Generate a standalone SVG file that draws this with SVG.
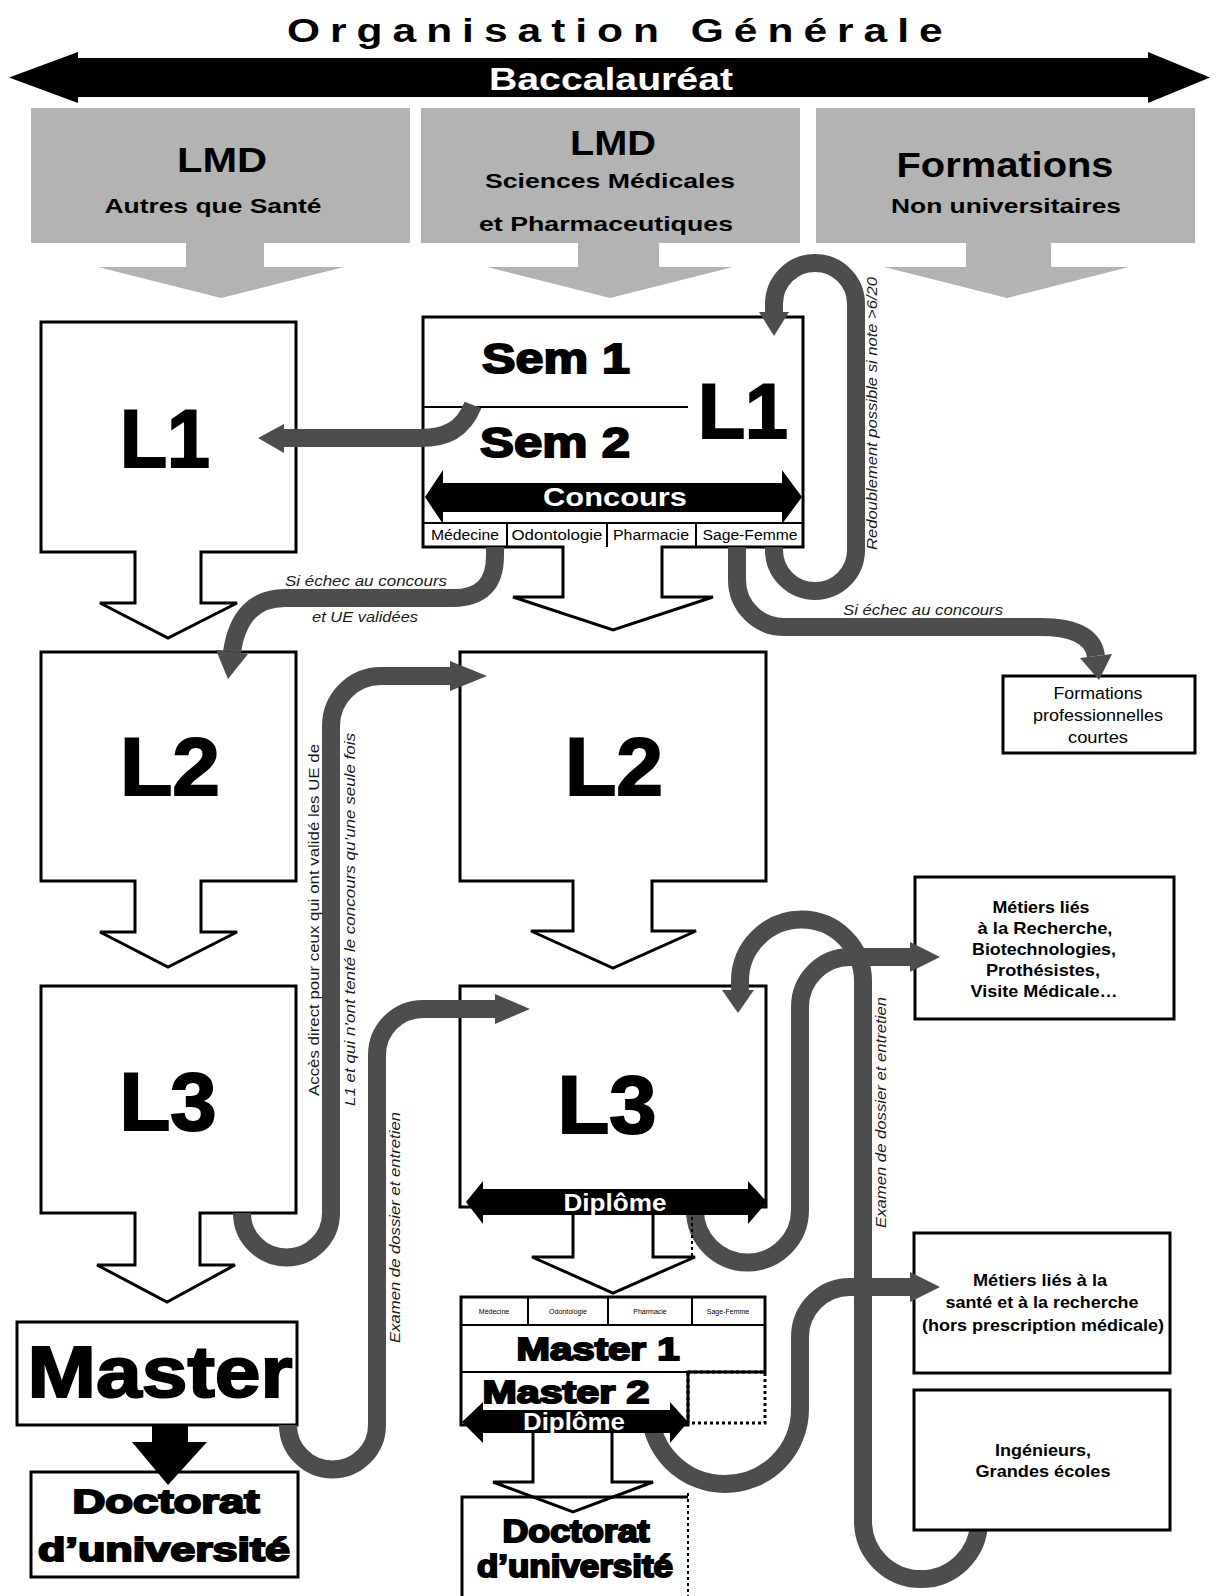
<svg xmlns="http://www.w3.org/2000/svg" width="1216" height="1596" viewBox="0 0 1216 1596">
<style>
.f{font-family:"Liberation Sans",Arial,Helvetica,sans-serif}
.box{fill:#fff;stroke:#000;stroke-width:3}
.frame{fill:none;stroke:#000;stroke-width:3}
.ln{fill:none;stroke:#000;stroke-width:2}
.dot{fill:none;stroke:#000;stroke-width:3;stroke-dasharray:3 3}
.hdr{fill:#b3b3b3}
.blk{fill:#000}
.conn{fill:none;stroke:#4d4d4d;stroke-width:18}
.hd{fill:#4d4d4d}
.heavy{font-weight:bold;fill:#000;stroke:#000;stroke-width:2;text-anchor:middle}
.wt{fill:#fff;font-weight:bold;text-anchor:middle}
.hdt{font-weight:bold;fill:#000;text-anchor:middle}
.rb{font-weight:bold;fill:#000;text-anchor:middle}
.rn{fill:#000;text-anchor:middle}
.lab{font-style:italic;fill:#1a1a1a}
.up{fill:#1a1a1a}
.cell{fill:#000;text-anchor:middle}
</style>
<rect x="0" y="0" width="1216" height="1596" fill="#fff"/>

<g id="title">
<text class="f" transform="translate(287,42) scale(1.25,1)" x="0" y="0" font-size="34" font-weight="bold" letter-spacing="8">Organisation Générale</text>
</g>

<g id="baccalaureat">
<polygon class="blk" points="9,77.5 78,52 78,58 1148,58 1148,52 1210,77.5 1148,103 1148,97 78,97 78,103"/>
<text class="f wt" x="611" y="90" font-size="32" textLength="244" lengthAdjust="spacingAndGlyphs">Baccalauréat</text>
</g>

<g id="lmd-autres">
<rect class="hdr" x="31" y="108" width="379" height="135"/>
<polygon class="hdr" points="186,242 264,242 264,267 344,267 221,298 98,267 186,267"/>
<text class="f hdt" x="222" y="172" font-size="35" textLength="90" lengthAdjust="spacingAndGlyphs">LMD</text>
<text class="f hdt" x="213" y="213" font-size="20" textLength="217" lengthAdjust="spacingAndGlyphs">Autres que Santé</text>
</g>

<g id="lmd-sante">
<rect class="hdr" x="421" y="108" width="379" height="135"/>
<polygon class="hdr" points="578,242 659,242 659,267 733,267 610,298 487,267 578,267"/>
<text class="f hdt" x="613" y="155" font-size="35" textLength="86" lengthAdjust="spacingAndGlyphs">LMD</text>
<text class="f hdt" x="610" y="188" font-size="21" textLength="250" lengthAdjust="spacingAndGlyphs">Sciences Médicales</text>
<text class="f hdt" x="606" y="231" font-size="21" textLength="254" lengthAdjust="spacingAndGlyphs">et Pharmaceutiques</text>
</g>

<g id="formations-non-univ">
<rect class="hdr" x="816" y="108" width="379" height="135"/>
<polygon class="hdr" points="966,242 1051,242 1051,267 1129,267 1007,298 884,267 966,267"/>
<text class="f hdt" x="1005" y="177" font-size="35" textLength="217" lengthAdjust="spacingAndGlyphs">Formations</text>
<text class="f hdt" x="1006" y="213" font-size="20" textLength="230" lengthAdjust="spacingAndGlyphs">Non universitaires</text>
</g>

<g id="l1-left">
<polygon class="box" points="41,322 296,322 296,552 201,552 201,603 237,603 168,638 100,603 135,603 135,552 41,552"/>
<text class="f heavy" x="165" y="467" font-size="81" textLength="90" lengthAdjust="spacingAndGlyphs">L1</text>
</g>

<g id="l2-left">
<polygon class="box" points="41,652 296,652 296,881 201,881 201,932 237,932 168,967 100,932 135,932 135,881 41,881"/>
<text class="f heavy" x="170" y="795" font-size="81" textLength="100" lengthAdjust="spacingAndGlyphs">L2</text>
</g>

<g id="l3-left">
<polygon class="box" points="41,986 296,986 296,1213 200,1213 200,1265 235,1265 167,1302 97,1265 135,1265 135,1213 41,1213"/>
<text class="f heavy" x="168" y="1130" font-size="81" textLength="97" lengthAdjust="spacingAndGlyphs">L3</text>
</g>

<g id="doctorat-left">
<rect class="box" x="31" y="1472" width="267" height="105"/>
<text class="f heavy" x="166" y="1513" font-size="33" textLength="187" lengthAdjust="spacingAndGlyphs">Doctorat</text>
<text class="f heavy" x="164" y="1561" font-size="33" textLength="252" lengthAdjust="spacingAndGlyphs">d’université</text>
</g>

<g id="master-left">
<rect class="box" x="17" y="1322" width="280" height="103"/>
<text class="f heavy" x="160" y="1397" font-size="73" textLength="265" lengthAdjust="spacingAndGlyphs">Master</text>
<polygon class="blk" points="152,1425 188,1425 188,1442 207,1442 168,1485 132,1442 152,1442"/>
</g>

<g id="l1-sante">
<polygon class="box" points="423,317 803,317 803,547 662,547 662,597 713,597 613,630 513,597 563,597 563,547 423,547"/>
<line class="ln" x1="423" y1="407" x2="688" y2="407"/>
<line class="ln" x1="423" y1="523" x2="803" y2="523"/>
<line class="ln" x1="507" y1="523" x2="507" y2="547"/>
<line class="ln" x1="607" y1="523" x2="607" y2="547"/>
<line class="ln" x1="696" y1="523" x2="696" y2="547"/>
<text class="f heavy" x="556" y="373" font-size="43" textLength="148" lengthAdjust="spacingAndGlyphs">Sem 1</text>
<text class="f heavy" x="555" y="457" font-size="43" textLength="150" lengthAdjust="spacingAndGlyphs">Sem 2</text>
<text class="f heavy" x="743" y="438" font-size="78" textLength="90" lengthAdjust="spacingAndGlyphs">L1</text>
<polygon class="blk" points="425,497 443,470 443,483 782,483 782,470 802,497 782,524 782,512 443,512 443,524"/>
<text class="f wt" x="615" y="506" font-size="26" textLength="144" lengthAdjust="spacingAndGlyphs">Concours</text>
<text class="f cell" x="465" y="540" font-size="14" textLength="68" lengthAdjust="spacingAndGlyphs">Médecine</text>
<text class="f cell" x="557" y="540" font-size="14" textLength="91" lengthAdjust="spacingAndGlyphs">Odontologie</text>
<text class="f cell" x="651" y="540" font-size="14" textLength="76" lengthAdjust="spacingAndGlyphs">Pharmacie</text>
<text class="f cell" x="750" y="540" font-size="14" textLength="95" lengthAdjust="spacingAndGlyphs">Sage-Femme</text>
</g>

<g id="l2-sante">
<polygon class="box" points="460,652 766,652 766,881 652,881 652,931 696,931 613,968 531,931 573,931 573,881 460,881"/>
<text class="f heavy" x="614" y="795" font-size="81" textLength="98" lengthAdjust="spacingAndGlyphs">L2</text>
</g>

<g id="l3-sante">
<polygon class="box" points="460,986 766,986 766,1207 653,1207 653,1257 695,1257 613,1293 532,1257 573,1257 573,1207 460,1207"/>
<text class="f heavy" x="607" y="1133" font-size="81" textLength="99" lengthAdjust="spacingAndGlyphs">L3</text>
</g>

<g id="formations-pro">
<rect class="box" x="1003" y="676" width="192" height="77"/>
<text class="f rn" x="1098" y="699" font-size="16" textLength="89" lengthAdjust="spacingAndGlyphs">Formations</text>
<text class="f rn" x="1098" y="721" font-size="16" textLength="130" lengthAdjust="spacingAndGlyphs">professionnelles</text>
<text class="f rn" x="1098" y="743" font-size="16" textLength="60" lengthAdjust="spacingAndGlyphs">courtes</text>
</g>

<g id="metiers-recherche">
<rect class="box" x="915" y="877" width="259" height="142"/>
<text class="f rb" x="1041" y="913" font-size="17" textLength="97" lengthAdjust="spacingAndGlyphs">Métiers liés</text>
<text class="f rb" x="1045" y="934" font-size="17" textLength="135" lengthAdjust="spacingAndGlyphs">à la Recherche,</text>
<text class="f rb" x="1044" y="955" font-size="17" textLength="144" lengthAdjust="spacingAndGlyphs">Biotechnologies,</text>
<text class="f rb" x="1043" y="976" font-size="17" textLength="114" lengthAdjust="spacingAndGlyphs">Prothésistes,</text>
<text class="f rb" x="1044" y="997" font-size="17" textLength="147" lengthAdjust="spacingAndGlyphs">Visite Médicale…</text>
</g>

<g id="metiers-sante">
<rect class="box" x="914" y="1233" width="256" height="140"/>
<text class="f rb" x="1040" y="1286" font-size="16" textLength="134" lengthAdjust="spacingAndGlyphs">Métiers liés à la</text>
<text class="f rb" x="1042" y="1308" font-size="16" textLength="193" lengthAdjust="spacingAndGlyphs">santé et à la recherche</text>
<text class="f rb" x="1043" y="1331" font-size="16" textLength="242" lengthAdjust="spacingAndGlyphs">(hors prescription médicale)</text>
</g>

<g id="connectors">
<path class="conn" d="M 473,405 C 463,430 446,438 420,438 L 284,438"/>
<polygon class="hd" points="284,424 258,438 284,453"/>
<path class="conn" d="M 495,547 L 495,556 Q 495,598 453,598 L 285,598 Q 240,598 232,652"/>
<polygon class="hd" points="216,650 228,679 248,654"/>
<path class="conn" d="M 242,1213 A 44.5 44.5 0 0 0 331,1213 L 331,726 A 50 50 0 0 1 381,676 L 452,676"/>
<polygon class="hd" points="450,661 487,676 450,691"/>
<path class="conn" d="M 288,1425 A 44.5 44.5 0 0 0 377,1425 L 377,1055 A 46 46 0 0 1 423,1009 L 497,1009"/>
<polygon class="hd" points="495,994 530,1009 495,1024"/>
<path class="conn" d="M 774,547 L 774,550 A 41 41 0 0 0 856,550 L 856,304 A 41 41 0 0 0 774,304 L 774,314"/>
<polygon class="hd" points="759,312 774,336 789,312"/>
<path class="conn" d="M 737,547 L 737,580 A 47 47 0 0 0 784,627 L 1040,627 Q 1092,627 1096,656"/>
<polygon class="hd" points="1080,658 1099,680 1112,654"/>
<path class="conn" d="M 695,1200 L 695,1210 A 52.5 52.5 0 0 0 800,1210 L 800,1007 A 50 50 0 0 1 850,957 L 912,957"/>
<polygon class="hd" points="910,942 940,957 910,972"/>
<path class="conn" d="M 650,1409 A 75 75 0 0 0 800,1409 L 800,1337 A 50 50 0 0 1 850,1287 L 912,1287"/>
<polygon class="hd" points="910,1272 940,1287 910,1302"/>
<path class="conn" d="M 979,1521 A 58 58 0 0 1 863,1521 L 863,981 A 61.5 61.5 0 0 0 740,981 L 740,992"/>
<polygon class="hd" points="722,990 738,1013 754,990"/>
<text class="f lab" x="285" y="586" font-size="15" textLength="162" lengthAdjust="spacingAndGlyphs">Si échec au concours</text>
<text class="f lab" x="312" y="622" font-size="15" textLength="106" lengthAdjust="spacingAndGlyphs">et UE validées</text>
<text class="f lab" x="843" y="615" font-size="15" textLength="160" lengthAdjust="spacingAndGlyphs">Si échec au concours</text>
<text class="f lab" transform="translate(877,550) rotate(-90)" x="0" y="0" font-size="14" textLength="273" lengthAdjust="spacingAndGlyphs">Redoublement possible si note &gt;6/20</text>
<text class="f up" transform="translate(319,1096) rotate(-90)" x="0" y="0" font-size="15" textLength="352" lengthAdjust="spacingAndGlyphs">Accès direct pour ceux qui ont validé les UE de</text>
<text class="f lab" transform="translate(355,1106) rotate(-90)" x="0" y="0" font-size="15" textLength="373" lengthAdjust="spacingAndGlyphs">L1 et qui n’ont tenté le concours qu’une seule fois</text>
<text class="f lab" transform="translate(400,1343) rotate(-90)" x="0" y="0" font-size="14" textLength="231" lengthAdjust="spacingAndGlyphs">Examen de dossier et entretien</text>
<text class="f lab" transform="translate(886,1228) rotate(-90)" x="0" y="0" font-size="14" textLength="231" lengthAdjust="spacingAndGlyphs">Examen de dossier et entretien</text>
</g>

<g id="diplome-l3">
<polygon class="blk" points="466,1202 483,1181 483,1189 748,1189 748,1181 767,1202 748,1224 748,1215 483,1215 483,1224"/>
<text class="f wt" x="615" y="1211" font-size="24" textLength="103" lengthAdjust="spacingAndGlyphs">Diplôme</text>
<line class="dot" x1="692" y1="1217" x2="692" y2="1257" style="stroke-width:2"/>
</g>

<g id="master-sante">
<polygon class="box" points="461,1297 765,1297 765,1372 688,1372 688,1425 612,1425 612,1482 653,1482 573,1512 493,1482 533,1482 533,1425 461,1425"/>
<line class="ln" x1="461" y1="1325" x2="765" y2="1325"/>
<line class="ln" x1="461" y1="1372" x2="688" y2="1372"/>
<line class="ln" x1="528" y1="1297" x2="528" y2="1325"/>
<line class="ln" x1="608" y1="1297" x2="608" y2="1325"/>
<line class="ln" x1="692" y1="1297" x2="692" y2="1325"/>
<text class="f cell" x="494" y="1314" font-size="7">Médecine</text>
<text class="f cell" x="568" y="1314" font-size="7">Odontologie</text>
<text class="f cell" x="650" y="1314" font-size="7">Pharmacie</text>
<text class="f cell" x="728" y="1314" font-size="7">Sage-Femme</text>
<rect class="dot" x="688" y="1372" width="77" height="51"/>
<text class="f heavy" x="598" y="1360" font-size="32" textLength="163" lengthAdjust="spacingAndGlyphs">Master 1</text>
<text class="f heavy" x="566" y="1403" font-size="32" textLength="167" lengthAdjust="spacingAndGlyphs">Master 2</text>
<polygon class="blk" points="462,1422 483,1402 483,1410 670,1410 670,1402 688,1422 670,1443 670,1433 483,1433 483,1443"/>
<text class="f wt" x="574" y="1430" font-size="24" textLength="102" lengthAdjust="spacingAndGlyphs">Diplôme</text>
</g>

<g id="doctorat-sante">
<path class="frame" d="M 462,1600 L 462,1497 L 688,1497"/>
<line class="dot" x1="688" y1="1493" x2="688" y2="1596" style="stroke-width:2"/>
<text class="f heavy" x="576" y="1542" font-size="31" textLength="147" lengthAdjust="spacingAndGlyphs">Doctorat</text>
<text class="f heavy" x="575" y="1577" font-size="31" textLength="196" lengthAdjust="spacingAndGlyphs">d’université</text>
</g>

<g id="ingenieurs">
<rect class="box" x="914" y="1390" width="256" height="140"/>
<text class="f rb" x="1043" y="1456" font-size="16" textLength="96" lengthAdjust="spacingAndGlyphs">Ingénieurs,</text>
<text class="f rb" x="1043" y="1477" font-size="16" textLength="135" lengthAdjust="spacingAndGlyphs">Grandes écoles</text>
</g>
</svg>
